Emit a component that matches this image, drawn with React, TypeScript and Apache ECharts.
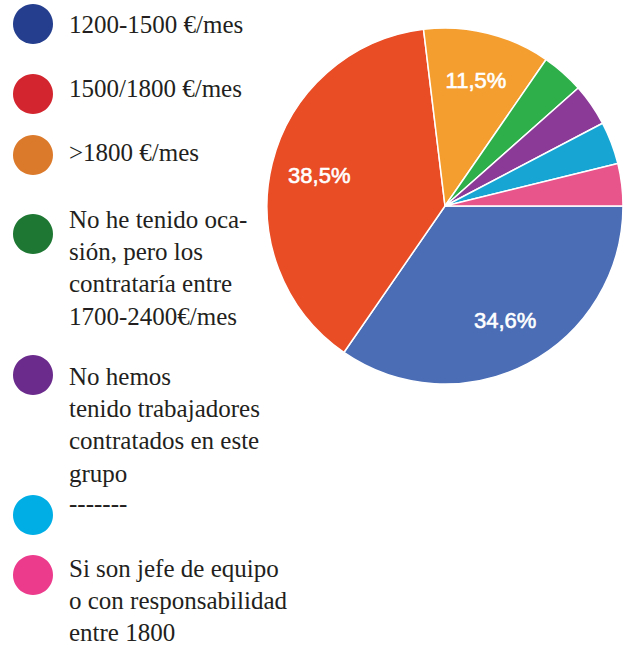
import React, { useEffect, useRef } from "react";
import * as echarts from "echarts";

// ---- data ----
const categories: string[] = [
  "1200-1500 €/mes",
  "1500/1800 €/mes",
  ">1800 €/mes",
  "No he tenido oca-\nsión, pero los\ncontrataría entre\n1700-2400€/mes",
  "No hemos\ntenido trabajadores\ncontratados en este\ngrupo",
  "-------",
  "Si son jefe de equipo\no con responsabilidad\nentre 1800",
];
const counts: number[] = [9, 10, 3, 1, 1, 1, 1];
const sliceColors: string[] = ["#4a6db6", "#e84d26", "#f59e30", "#2eaf4a", "#8b3a97", "#17a6d3", "#e8558a"];
const legendColors: string[] = ["#253f8e", "#d3252f", "#dc7a2b", "#1e7733", "#6b2b8d", "#00aee6", "#ec3a8d"];

// ---- layout (not data) ----
const legendCircleY = [24, 94, 155, 234, 375, 515, 575];
const legendTextY = [24, 88, 152, 219, 376, 503, 568];
const LINE_H = 32.4;

export default function App() {
  const ref = useRef<HTMLDivElement>(null);
  useEffect(() => {
    if (!ref.current) return;
    const chart = echarts.init(ref.current, undefined, { renderer: "svg" });
    const data = categories.map((name, i) => ({
      name,
      value: counts[i],
      itemStyle: { color: sliceColors[i] },
    }));
    const graphic: any[] = [];
    categories.forEach((label, i) => {
      graphic.push({
        type: "circle",
        shape: { cx: 33, cy: legendCircleY[i], r: 20 },
        style: { fill: legendColors[i] },
        silent: true,
      });
      label.split("\n").forEach((line, j) => {
        graphic.push({
          type: "text",
          x: 69,
          y: legendTextY[i] + j * LINE_H,
          silent: true,
          style: {
            text: line,
            fill: "#231f20",
            font: "25px 'Liberation Serif', 'DejaVu Serif', serif",
            align: "left",
            verticalAlign: "middle",
          },
        });
      });
    });
    chart.setOption({
      animation: false,
      backgroundColor: "#ffffff",
      graphic,
      series: [
        {
          type: "pie",
          center: [445, 206],
          radius: 178,
          startAngle: 0,
          clockwise: true,
          silent: true,
          label: { show: false },
          labelLine: { show: false },
          itemStyle: { borderColor: "#ffffff", borderWidth: 1.5 },
          data,
        },
        {
          type: "pie",
          center: [445, 206],
          radius: [75, 178],
          startAngle: 0,
          clockwise: true,
          silent: true,
          avoidLabelOverlap: false,
          itemStyle: { color: "rgba(0,0,0,0)", borderWidth: 0 },
          labelLine: { show: false },
          label: {
            show: true,
            position: "inside",
            color: "#ffffff",
            fontFamily: "Liberation Sans",
            fontSize: 22,
            textBorderColor: "#ffffff",
            textBorderWidth: 0.6,
            formatter: (p: any) =>
              p.percent > 5 ? (Math.round(p.percent * 10) / 10).toFixed(1).replace(".", ",") + "%" : "",
          },
          data: counts.map((v, i) => ({ name: categories[i], value: v })),
        },
      ],
    });
    return () => chart.dispose();
  }, []);
  return (
    <div
      ref={ref}
      style={{ position: "fixed", left: 0, top: 0, width: 629, height: 646, background: "#fff" }}
    />
  );
}
